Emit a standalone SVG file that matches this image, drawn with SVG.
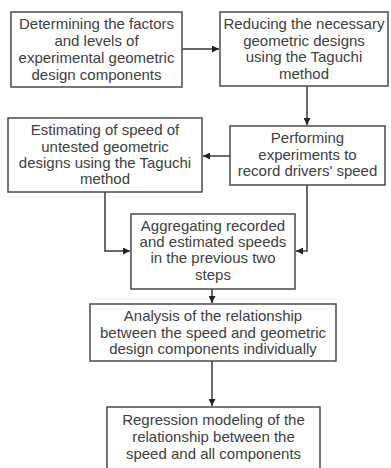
<svg xmlns="http://www.w3.org/2000/svg" width="391" height="468" viewBox="0 0 391 468">
<style>
.box{fill:#fff;stroke:#4a4a4a;stroke-width:1.5}
.t{font-family:"Liberation Sans",Arial,sans-serif;font-size:15px;fill:#404040;text-anchor:middle}
.c{fill:none;stroke:#3a3a3a;stroke-width:1.5}
</style>
<defs>
<marker id="ah" viewBox="0 0 10 10" refX="10" refY="5" markerWidth="7" markerHeight="7" orient="auto" markerUnits="userSpaceOnUse">
<path d="M0,0 L10,5 L0,10 z" fill="#222"/>
</marker>
</defs>
<rect width="391" height="468" fill="#fff"/>
<g id="connectors">
<path class="c" d="M182,49 H219" marker-end="url(#ah)"/>
<path class="c" d="M307,86 V125" marker-end="url(#ah)"/>
<path class="c" d="M230,156 H203" marker-end="url(#ah)"/>
<path class="c" d="M105,192 V251 H130" marker-end="url(#ah)"/>
<path class="c" d="M307,185 V251 H296" marker-end="url(#ah)"/>
<path class="c" d="M212,289 V303" marker-end="url(#ah)"/>
<path class="c" d="M212,361 V406" marker-end="url(#ah)"/>
</g>
<g id="n1">
<rect class="box" x="11" y="12" width="171" height="75"/>
<text class="t" x="96.5" y="29">Determining the factors</text>
<text class="t" x="96.5" y="46">and levels of</text>
<text class="t" x="96.5" y="63">experimental geometric</text>
<text class="t" x="96.5" y="80">design components</text>
</g>
<g id="n2">
<rect class="box" x="220" y="12" width="168" height="74"/>
<text class="t" x="304" y="29">Reducing the necessary</text>
<text class="t" x="304" y="46">geometric designs</text>
<text class="t" x="304" y="62">using the Taguchi</text>
<text class="t" x="304" y="79">method</text>
</g>
<g id="n3">
<rect class="box" x="8" y="118" width="194" height="74"/>
<text class="t" x="105" y="135">Estimating of speed of</text>
<text class="t" x="105" y="152">untested geometric</text>
<text class="t" x="105" y="168">designs using the Taguchi</text>
<text class="t" x="105" y="184">method</text>
</g>
<g id="n4">
<rect class="box" x="230" y="126" width="155" height="59"/>
<text class="t" x="307.5" y="143">Performing</text>
<text class="t" x="307.5" y="160">experiments to</text>
<text class="t" x="307.5" y="176">record drivers' speed</text>
</g>
<g id="n5">
<rect class="box" x="131" y="214" width="164" height="75"/>
<text class="t" x="213" y="231">Aggregating recorded</text>
<text class="t" x="213" y="247">and estimated speeds</text>
<text class="t" x="213" y="263">in the previous two</text>
<text class="t" x="213" y="280">steps</text>
</g>
<g id="n6">
<rect class="box" x="90" y="304" width="246" height="57"/>
<text class="t" x="213" y="321">Analysis of the relationship</text>
<text class="t" x="213" y="338">between the speed and geometric</text>
<text class="t" x="213" y="354">design components individually</text>
</g>
<g id="n7">
<rect class="box" x="107" y="407" width="213" height="66"/>
<text class="t" x="213.5" y="425">Regression modeling of the</text>
<text class="t" x="213.5" y="442">relationship between the</text>
<text class="t" x="213.5" y="459">speed and all components</text>
</g>
</svg>
